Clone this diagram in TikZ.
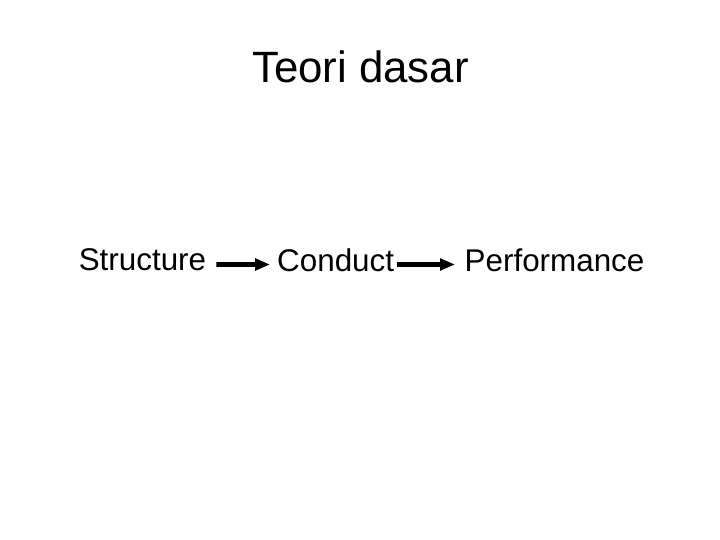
\documentclass[tikz,border=0pt]{standalone}
\usepackage{fontspec}
\setmainfont{Liberation Sans}
\usetikzlibrary{arrows.meta,calc}
\begin{document}
\begin{tikzpicture}[x=1bp,y=-1bp,
  titletext/.style={inner sep=0pt,anchor=base,font=\fontsize{44}{52}\selectfont},
  bodytext/.style={inner sep=0pt,anchor=base west,font=\fontsize{31.5}{37}\selectfont},
  thickarrow/.style={line width=4.5bp,-{Triangle[length=15bp,width=11.5bp]}}]
\useasboundingbox[fill=white] (0,0) rectangle (720,540);
\node[titletext] (title) at (360.5,83) {Teori dasar};
\node[bodytext] (st) at (78.6,271) {Structure};
\node[bodytext] (co) at (277,271.5) {Conduct};
\node[bodytext] (pe) at (464.5,271.5) {Performance};
\draw[thickarrow] ($(st.base east)+(10,-6.5)$) -- ($(co.base west)+(-7,-7)$);
\draw[thickarrow] ($(co.base east)+(3,-7)$) -- ($(pe.base west)+(-9.5,-7)$);
\end{tikzpicture}
\end{document}
